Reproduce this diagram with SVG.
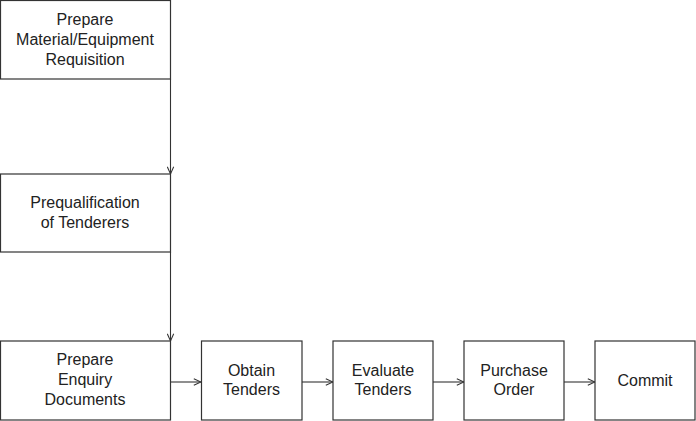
<svg xmlns="http://www.w3.org/2000/svg" width="696" height="421" viewBox="0 0 696 421">
<defs>
<style>
.box{fill:#fff;stroke:#333;stroke-width:1.2}
.t{font-family:"Liberation Sans",Arial,sans-serif;font-size:16px;fill:#222;text-anchor:middle}
.c{fill:none;stroke:#333;stroke-width:1.1}
</style>
<marker id="ah" viewBox="0 0 10 10" refX="10" refY="5" markerWidth="8" markerHeight="8" markerUnits="userSpaceOnUse" orient="auto">
<path d="M1,1 L10,5 L1,9" fill="none" stroke="#333" stroke-width="1.3"/>
</marker>
</defs>
<rect width="696" height="421" fill="#fff"/>
<g id="connectors">
<path class="c" d="M170.5,79 V174" marker-end="url(#ah)"/>
<path class="c" d="M170.5,252 V341" marker-end="url(#ah)"/>
<path class="c" d="M170,382 H201" marker-end="url(#ah)"/>
<path class="c" d="M302,382 H333" marker-end="url(#ah)"/>
<path class="c" d="M433,382 H464" marker-end="url(#ah)"/>
<path class="c" d="M564,382 H595" marker-end="url(#ah)"/>
</g>
<g id="n1"><rect class="box" x="0.5" y="0.5" width="170" height="78.5"/>
<text class="t" x="85" y="25">Prepare</text><text class="t" x="85" y="45">Material/Equipment</text><text class="t" x="85" y="65">Requisition</text></g>
<g id="n2"><rect class="box" x="0.5" y="174" width="170" height="78"/>
<text class="t" x="85" y="208">Prequalification</text><text class="t" x="85" y="228">of Tenderers</text></g>
<g id="n3"><rect class="box" x="0.5" y="341" width="170" height="79"/>
<text class="t" x="85" y="365">Prepare</text><text class="t" x="85" y="385">Enquiry</text><text class="t" x="85" y="405">Documents</text></g>
<g id="n4"><rect class="box" x="201.5" y="341" width="100.5" height="79"/>
<text class="t" x="251.5" y="376">Obtain</text><text class="t" x="251.5" y="395">Tenders</text></g>
<g id="n5"><rect class="box" x="333" y="341" width="100" height="79"/>
<text class="t" x="383" y="376">Evaluate</text><text class="t" x="383" y="395">Tenders</text></g>
<g id="n6"><rect class="box" x="464" y="341" width="100" height="79"/>
<text class="t" x="514" y="376">Purchase</text><text class="t" x="514" y="395">Order</text></g>
<g id="n7"><rect class="box" x="595" y="341" width="100" height="79"/>
<text class="t" x="645" y="386">Commit</text></g>
</svg>
